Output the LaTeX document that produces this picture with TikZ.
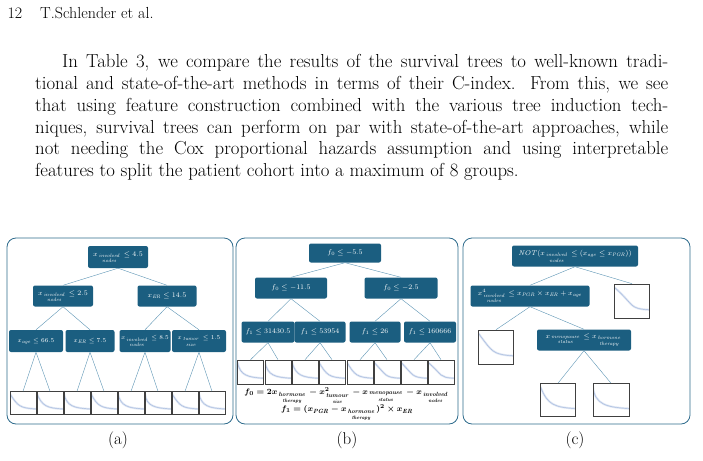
\documentclass[tikz,border=0pt]{standalone}
\usepackage{amsmath}
\usepackage{amssymb}
\usetikzlibrary{positioning,calc}
\definecolor{nodeblue}{HTML}{1B5E80}
\definecolor{frameblue}{HTML}{2E6B8C}
\definecolor{edgeblue}{HTML}{5B93B3}
\definecolor{bandblue}{HTML}{DCE4F2}
\definecolor{curveblue}{HTML}{A3B8DE}
\tikzset{split/.style={fill=nodeblue,text=white,rounded corners=2pt,align=center,inner sep=1pt,font=\fontsize{7}{8}\selectfont},
         panel/.style={draw=frameblue,thick,rounded corners=9pt},
         edge/.style={draw=edgeblue,thin},
         leaf/.style={draw=black!75,semithick,fill=white,inner sep=0pt,
           path picture={\draw[bandblue,line width=2pt] let \p1=(path picture bounding box.north west),\p2=(path picture bounding box.south east) in
             (\x1,{\y1-0.1*(\y1-\y2)}) .. controls ({\x1+#1*(\x2-\x1)},{\y1-0.65*(\y1-\y2)}) and ({\x1+0.4*(\x2-\x1)},{\y1-0.72*(\y1-\y2)}) .. (\x2,{\y1-0.76*(\y1-\y2)});
             \draw[curveblue,thin] let \p1=(path picture bounding box.north west),\p2=(path picture bounding box.south east) in
             (\x1,{\y1-0.1*(\y1-\y2)}) .. controls ({\x1+#1*(\x2-\x1)},{\y1-0.65*(\y1-\y2)}) and ({\x1+0.4*(\x2-\x1)},{\y1-0.72*(\y1-\y2)}) .. (\x2,{\y1-0.76*(\y1-\y2)});}},
         leaf/.default=0.3
}
\newcommand\tl[2]{\genfrac{}{}{0pt}{1}{\scriptstyle\mathit{#1}}{\scriptscriptstyle\mathit{#2}}}
\begin{document}
\begin{tikzpicture}[x=1pt,y=-1pt]
\useasboundingbox (0,0) rectangle (703,460);
% page text
\node[anchor=west,font=\fontsize{16}{19}\selectfont] (pageno) at (4,13) {12\hspace{18pt}T.Schlender et al.};
\node[anchor=north west,text width=633pt,inner sep=0pt,align=justify,font=\fontsize{18.8}{21.9}\selectfont] (para) at (35,54)
 {\hspace*{27pt}In Table 3, we compare the results of the survival trees to well-known tradi-\linebreak
 tional and state-of-the-art methods in terms of their C-index. From this, we see\linebreak
 that using feature construction combined with the various tree induction tech-\linebreak
 niques, survival trees can perform on par with state-of-the-art approaches, while\linebreak
 not needing the Cox proportional hazards assumption and using interpretable\linebreak
 features to split the patient cohort into a maximum of 8 groups.};

% (a)
\draw[panel] (7,238) rectangle (233,424);
\node[split,minimum width=60pt,minimum height=22pt] (a0) at (118,257) {$x_{\tl{involved}{nodes}}\le 4.5$};
\node[split,minimum width=60pt,minimum height=21pt] (a1) at (63,296) {$x_{\tl{involved}{nodes}}\le 2.5$};
\node[split,minimum width=59pt,minimum height=21pt] (a2) at (167,296) {$x_{\mathit{ER}}\le 14.5$};
\node[split,minimum width=54pt,minimum height=22pt,font=\fontsize{6}{7}\selectfont] (a3) at (36,341) {$x_{\mathit{age}}\le 66.5$};
\node[split,minimum width=49pt,minimum height=22pt,font=\fontsize{6}{7}\selectfont] (a4) at (90,341) {$x_{\mathit{ER}}\le 7.5$};
\node[split,minimum width=51pt,minimum height=22pt,font=\fontsize{6}{7}\selectfont] (a5) at (145,341) {$x_{\tl{involved}{nodes}}\le 8.5$};
\node[split,minimum width=54pt,minimum height=22pt,font=\fontsize{6}{7}\selectfont] (a6) at (199,341) {$x_{\tl{tumor}{size}}\le 1.5$};
\foreach \i/\x/\c in {1/23/0.3,2/50/0.2,3/77/0.1,4/104/0.25,5/131/0.1,6/158/0.05,7/185/0.3,8/212/0.1}
  \node[leaf=\c,minimum width=26pt,minimum height=23pt] (al\i) at (\x,403) {};
\draw[edge] (a0.south) -- (a1.north) (a0.south) -- (a2.north);
\draw[edge] (a1.south) -- (a3.north) (a1.south) -- (a4.north) (a2.south) -- (a5.north) (a2.south) -- (a6.north);
\draw[edge] (a3.south) -- (al1.north) (a3.south) -- (al2.north) (a4.south) -- (al3.north) (a4.south) -- (al4.north)
            (a5.south) -- (al5.north) (a5.south) -- (al6.north) (a6.south) -- (al7.north) (a6.south) -- (al8.north);
\node[font=\fontsize{17}{20}\selectfont] (capa) at (118,440) {(a)};

% (b)
\draw[panel] (236,238) rectangle (458,424);
\node[split,minimum width=72pt,minimum height=19pt] (b0) at (345,253) {$f_0\le -5.5$};
\node[split,minimum width=72pt,minimum height=21pt] (b1) at (291,288) {$f_0\le -11.5$};
\node[split,minimum width=73pt,minimum height=21pt] (b2) at (401,288) {$f_0\le -2.5$};
\node[split,minimum width=53pt,minimum height=21pt] (b3) at (268,332) {$f_1\le 31430.5$};
\node[split,minimum width=51pt,minimum height=21pt] (b4) at (320,332) {$f_1\le 53954$};
\node[split,minimum width=51pt,minimum height=21pt] (b5) at (375,332) {$f_1\le 26$};
\node[split,minimum width=52pt,minimum height=21pt] (b6) at (430,332) {$f_1\le 160666$};
\foreach \i/\x/\c in {1/250.5/0.1,2/278/0.1,3/305/0.15,4/332/0.3,5/360/0.3,6/387/0.5,7/414/0.5,8/441/0.6}
  \node[leaf=\c,minimum width=26pt,minimum height=24pt] (bl\i) at (\x,372) {};
\draw[edge] (b0.south) -- (b1.north) (b0.south) -- (b2.north);
\draw[edge] (b1.south) -- (b3.north) (b1.south) -- (b4.north) (b2.south) -- (b5.north) (b2.south) -- (b6.north);
\draw[edge] (b3.south) -- (bl1.north) (b3.south) -- (bl2.north) (b4.south) -- (bl3.north) (b4.south) -- (bl4.north)
            (b5.south) -- (bl5.north) (b5.south) -- (bl6.north) (b6.south) -- (bl7.north) (b6.south) -- (bl8.north);
\node[font=\fontsize{8.5}{9}\selectfont\boldmath,inner sep=0pt] (fzero) at (347,396)
 {$f_0=2x_{\tl{hormone}{therapy}}-x^2_{\tl{tumour}{size}}-x_{\tl{menopause}{status}}-x_{\tl{involved}{nodes}}$};
\node[font=\fontsize{8.5}{9}\selectfont\boldmath,inner sep=0pt] (fone) at (347,413)
 {$f_1=(x_{\mathit{PGR}}-x_{\tl{hormone}{therapy}})^2\times x_{\mathit{ER}}$};
\node[font=\fontsize{17}{20}\selectfont] (capb) at (347,440) {(b)};

% (c)
\draw[panel] (463,238) rectangle (690,424);
\node[split,minimum width=126pt,minimum height=21pt] (c0) at (575,256) {$\mathit{NOT}(x_{\tl{involved}{nodes}}\le(x_{\mathit{age}}\le x_{\mathit{PGR}}))$};
\node[split,minimum width=119pt,minimum height=21pt] (c1) at (530,296) {$x^4_{\tl{involved}{nodes}}\le x_{\mathit{PGR}}\times x_{\mathit{ER}}+x_{\mathit{age}}$};
\node[leaf=0.6,minimum width=35pt,minimum height=34pt] (cl1) at (632,301) {};
\node[leaf=0.4,minimum width=35pt,minimum height=34pt] (cl2) at (496,347) {};
\node[split,minimum width=94pt,minimum height=21pt] (c2) at (584,340) {$x_{\tl{menopause}{status}}\le x_{\tl{hormone}{therapy}}$};
\node[leaf=0.2,minimum width=35pt,minimum height=33pt] (cl3) at (558,400) {};
\node[leaf=0.05,minimum width=36pt,minimum height=33pt] (cl4) at (611,400) {};
\draw[edge] (c0.south) -- (c1.north) (c0.south) -- (cl1.north);
\draw[edge] (c1.south) -- (cl2.north) (c1.south) -- (c2.north);
\draw[edge] (c2.south) -- (cl3.north) (c2.south) -- (cl4.north);
\node[font=\fontsize{17}{20}\selectfont] (capc) at (575,440) {(c)};
\end{tikzpicture}
\end{document}
